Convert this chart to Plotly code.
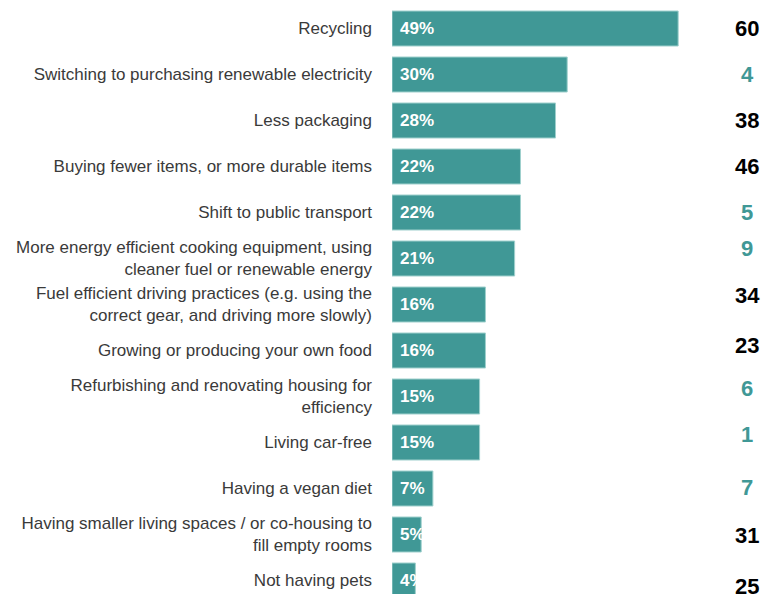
import plotly.graph_objects as go

categories = [
    "Recycling",
    "Switching to purchasing renewable electricity",
    "Less packaging",
    "Buying fewer items, or more durable items",
    "Shift to public transport",
    "More energy efficient cooking equipment, using<br>cleaner fuel or renewable energy",
    "Fuel efficient driving practices (e.g. using the<br>correct gear, and driving more slowly)",
    "Growing or producing your own food",
    "Refurbishing and renovating housing for<br>efficiency",
    "Living car-free",
    "Having a vegan diet",
    "Having smaller living spaces / or co-housing to<br>fill empty rooms",
    "Not having pets",
]
percent = [49, 30, 28, 22, 22, 21, 16, 16, 15, 15, 7, 5, 4]
rank_numbers = [60, 4, 38, 46, 5, 9, 34, 23, 6, 1, 7, 31, 25]
rank_highlight = [False, True, False, False, True, True, False, False, True, True, True, False, False]

TEAL = "#409896"
FONT = "Liberation Sans, Arial, sans-serif"
W, H = 761, 594
left = 392
px_per_pct = 5.84
pitch = 46.0
first_center = 28.5

# pixel offsets for right-hand numbers (style only)
num_yshift = [0, 0, 0, 0, 0, 10, 9, 5, 8, 8, 1, -1, -6]

ypos = list(range(len(categories)))

fig = go.Figure()
fig.add_trace(go.Bar(
    y=ypos, x=percent, orientation="h",
    marker=dict(color=TEAL, line=dict(color="#9fd0cd", width=1)),
    width=35 / pitch,
    hoverinfo="skip",
))

annotations = []
for i, (p, n, hl) in enumerate(zip(percent, rank_numbers, rank_highlight)):
    annotations.append(dict(
        x=0, y=i, xref="x", yref="y", text=f"<b>{p}%</b>",
        xanchor="left", yanchor="middle", xshift=6, showarrow=False,
        font=dict(family=FONT, size=17, color="white"),
    ))
    annotations.append(dict(
        x=(747 - left) / (W - left), y=i, xref="paper", yref="y", text=f"<b>{n}</b>",
        xanchor="center", yanchor="middle", yshift=num_yshift[i], showarrow=False,
        font=dict(family=FONT, size=22, color=TEAL if hl else "black"),
    ))

y_top = -0.5 - (first_center - pitch / 2) / pitch
y_bot = y_top + H / pitch

fig.update_layout(
    width=W, height=H,
    margin=dict(l=left, r=0, t=0, b=0),
    paper_bgcolor="white", plot_bgcolor="white",
    showlegend=False,
    xaxis=dict(range=[0, (W - left) / px_per_pct], visible=False, fixedrange=True),
    yaxis=dict(
        range=[y_bot, y_top],
        tickmode="array", tickvals=ypos, ticktext=categories,
        showgrid=False, zeroline=False, showline=False, ticks="",
        ticklabelstandoff=19,
        tickfont=dict(family=FONT, size=17, color="#3a3a3a"),
    ),
    annotations=annotations,
)

fig.write_html("out.html")
